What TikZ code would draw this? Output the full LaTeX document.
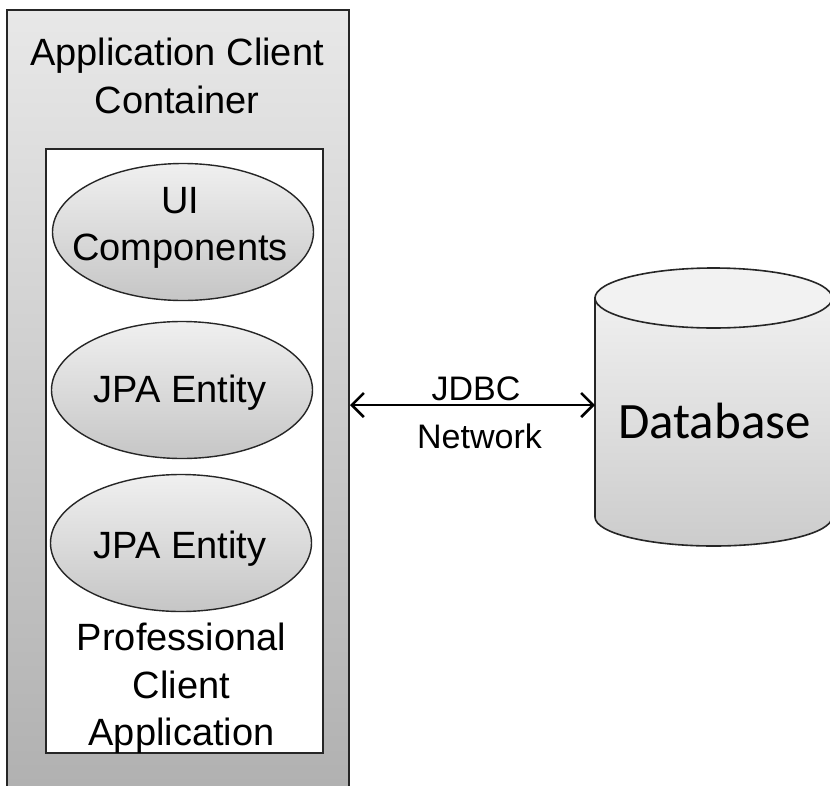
\documentclass[tikz,border=0pt]{standalone}
\usepackage{fontspec}
\setmainfont{Liberation Sans}
\newfontfamily\dbfont{Carlito}
\usetikzlibrary{arrows.meta,shapes.geometric}
\begin{document}
\begin{tikzpicture}[x=1pt,y=-1pt,
  boxline/.style={draw=black!85, line width=2pt},
  comp/.style={ellipse, draw=black!85, line width=1.4pt, top color=gray!12, bottom color=gray!45, minimum width=261pt, minimum height=137pt, inner sep=0pt},
  bigtxt/.style={font=\fontsize{38}{46}\selectfont, anchor=base, inner sep=0pt},
  midtxt/.style={font=\fontsize{34}{40}\selectfont, anchor=base, inner sep=0pt},
  link/.style={line width=2.6pt, {Straight Barb[length=12pt,width=24pt,line width=2.6pt]}-{Straight Barb[length=12pt,width=24pt,line width=2.6pt]}}
]
\useasboundingbox (0,0) rectangle (830,785);
\clip (0,0) rectangle (830,785);
\fill[white] (0,0) rectangle (830,785);
% outer container
\node (outer) [rectangle, boxline, top color=gray!18, bottom color=gray!62, minimum width=342pt, minimum height=790pt, anchor=north west, inner sep=0pt] at (6,9) {};
\node (t1) [bigtxt] at (177,65) {Application Client};
\node (t2) [bigtxt] at (177,113) {Container};
% inner application box
\node (inner) [rectangle, draw=black!85, line width=1.6pt, fill=white, minimum width=277pt, minimum height=604pt, anchor=north west, inner sep=0pt] at (45,148) {};
\node (ui) [comp] at (183,232) {};
\node (ui1) [bigtxt] at (180,213) {UI};
\node (ui2) [bigtxt] at (180,260) {Components};
\node (jpa1) [comp] at (182,390) {};
\node (jpa1t) [bigtxt] at (180,402) {JPA Entity};
\node (jpa2) [comp] at (181,543) {};
\node (jpa2t) [bigtxt] at (180,558) {JPA Entity};
\node (p1) [bigtxt] at (181.5,650) {Professional};
\node (p2) [bigtxt] at (181.5,698) {Client};
\node (p3) [bigtxt] at (181.5,745) {Application};
% database cylinder
\path[draw=black!85, line width=1.6pt, top color=gray!12, bottom color=gray!40]
  (595,298) -- (595,517) arc[start angle=180, end angle=0, x radius=118.5, y radius=29] -- (832,298) -- cycle;
\draw[black!85, line width=1.6pt, fill=gray!10] (713.5,298) ellipse [x radius=118.5, y radius=30];
\coordinate (dbw) at (595,405);
\node (db) [font=\dbfont\fontsize{51}{60}\selectfont, anchor=base, inner sep=0pt] at (714.5,438) {Database};
% connector
\draw[link] (outer.east |- dbw) -- (dbw);
\node (jdbc) [midtxt] at (476,400) {JDBC};
\node (net) [midtxt] at (479.5,448) {Network};
\end{tikzpicture}
\end{document}
